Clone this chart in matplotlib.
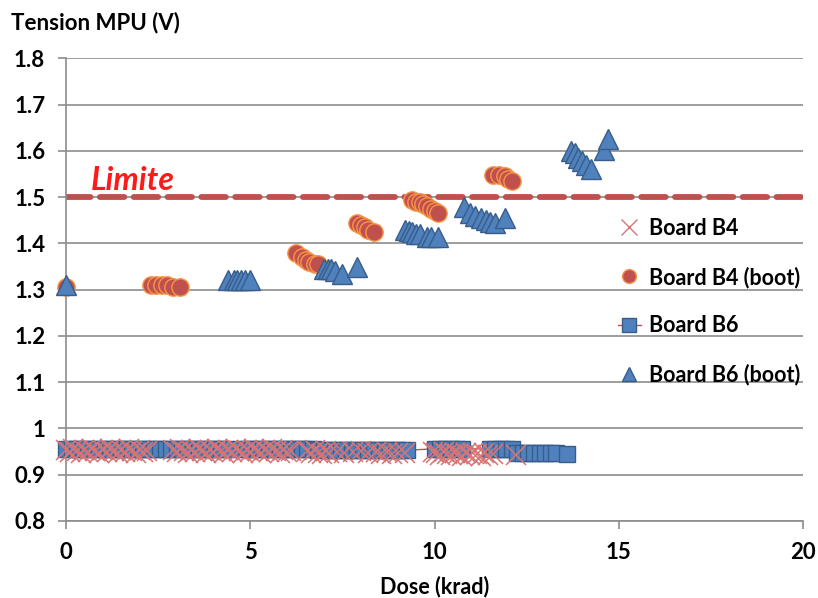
import matplotlib.pyplot as plt
from matplotlib.lines import Line2D

plt.rcParams['font.family'] = ['Lato', 'DejaVu Sans']
plt.rcParams['font.weight'] = 'bold'

# Board B4 (x markers)
b4_dose = [0.0, 0.1, 0.2, 0.3, 0.4, 0.5, 0.6, 0.7, 0.8, 0.9, 1.0, 1.1, 1.2,
           1.3, 1.4, 1.5, 1.6, 1.7, 1.8, 1.9, 2.0, 2.1, 2.2,
           2.9, 3.0, 3.1, 3.2, 3.3, 3.4, 3.5, 3.6, 3.7, 3.8, 3.9, 4.0, 4.1,
           4.2, 4.3, 4.4, 4.5, 4.6, 4.7, 4.8, 4.9, 5.0, 5.1, 5.2, 5.3, 5.4,
           5.5, 5.6, 5.7, 5.8, 5.9, 6.0, 6.1,
           6.55, 6.65, 6.75, 6.85, 6.95, 7.05, 7.15,
           7.35, 7.55, 7.8, 8.0, 8.2, 8.4, 8.55, 8.7, 8.85, 9.0, 9.2,
           9.95, 10.05, 10.15, 10.25, 10.35, 10.45, 10.55, 10.65, 10.75,
           10.85, 10.95, 11.05, 11.15, 11.25, 11.35, 11.45, 11.6,
           12.2]
b4_volt = [0.954, 0.949, 0.956, 0.951, 0.947, 0.954, 0.950, 0.956, 0.951, 0.947, 0.954, 0.949, 0.956,
           0.951, 0.947, 0.954, 0.950, 0.956, 0.951, 0.947, 0.954, 0.949, 0.951,
           0.954, 0.949, 0.956, 0.951, 0.947, 0.954, 0.950, 0.956, 0.951, 0.947, 0.954, 0.949, 0.956,
           0.951, 0.947, 0.954, 0.950, 0.956, 0.951, 0.947, 0.954, 0.949, 0.956, 0.951, 0.947,
           0.954, 0.950, 0.956, 0.951, 0.947, 0.954, 0.949, 0.951,
           0.951, 0.946, 0.953, 0.948, 0.945, 0.951, 0.947,
           0.950, 0.946, 0.949, 0.952, 0.947, 0.950, 0.945, 0.949, 0.945, 0.948, 0.946,
           0.950, 0.946, 0.943, 0.949, 0.945, 0.942, 0.948, 0.944, 0.941,
           0.947, 0.943, 0.948, 0.944, 0.941, 0.947, 0.943, 0.945,
           0.942]

# Board B4 (boot)
b4b_dose = [0.0, 2.3, 2.45, 2.6, 2.75, 2.9, 3.1,
            6.25, 6.4, 6.5, 6.6, 6.75, 6.85,
            7.9, 8.0, 8.1, 8.2, 8.35,
            9.4, 9.5, 9.6, 9.7, 9.8, 9.9, 10.0, 10.1,
            11.6, 11.75, 11.9, 12.0, 12.1]
b4b_volt = [1.305, 1.31, 1.31, 1.31, 1.31, 1.305, 1.305,
            1.38, 1.37, 1.365, 1.36, 1.355, 1.355,
            1.445, 1.44, 1.435, 1.43, 1.425,
            1.495, 1.49, 1.49, 1.485, 1.48, 1.475, 1.47, 1.465,
            1.548, 1.547, 1.545, 1.54, 1.536]

# Board B6 (squares)
b6_dose = [0.0, 0.15, 0.3, 0.45, 0.6, 0.75, 0.9, 1.05, 1.2, 1.35, 1.5, 1.65,
           1.8, 1.95, 2.1, 2.25, 2.4, 2.55, 2.7, 2.85, 3.0, 3.15, 3.3, 3.45,
           3.6, 3.75, 3.9, 4.05, 4.2, 4.35,
           4.75, 4.9, 5.05, 5.2, 5.35, 5.5, 5.65, 5.8, 5.95, 6.1, 6.25, 6.4,
           6.55, 6.7, 6.85, 7.0, 7.15, 7.3, 7.45, 7.6, 7.75, 7.9, 8.05, 8.2,
           8.35, 8.5, 8.65, 8.8, 8.95, 9.1, 9.25,
           10.0, 10.15, 10.3, 10.45, 10.6, 10.75,
           11.5, 11.65, 11.8, 11.95, 12.1,
           12.25, 12.4, 12.55, 12.7, 12.85, 13.0, 13.15, 13.3, 13.6]
b6_volt = [0.955, 0.955, 0.955, 0.955, 0.955, 0.955, 0.955, 0.955, 0.955, 0.955, 0.955, 0.955,
           0.955, 0.955, 0.955, 0.955, 0.955, 0.956, 0.956, 0.956, 0.955, 0.955, 0.955, 0.955,
           0.955, 0.955, 0.955, 0.955, 0.955, 0.955,
           0.955, 0.955, 0.955, 0.955, 0.955, 0.955, 0.955, 0.955, 0.955, 0.955, 0.955, 0.955,
           0.955, 0.955, 0.954, 0.954, 0.954, 0.954, 0.954, 0.954, 0.954, 0.954, 0.954, 0.954,
           0.954, 0.954, 0.953, 0.953, 0.953, 0.953, 0.953,
           0.956, 0.956, 0.956, 0.956, 0.956, 0.956,
           0.956, 0.956, 0.956, 0.956, 0.956,
           0.948, 0.948, 0.948, 0.948, 0.948, 0.948, 0.947, 0.947, 0.945]

# Board B6 (boot)
b6b_dose = [0.0, 4.4, 4.55, 4.65, 4.75, 4.85, 5.0,
            7.0, 7.1, 7.2, 7.3, 7.5, 7.9,
            9.2, 9.3, 9.4, 9.5, 9.6, 9.8, 9.9, 10.1,
            10.8, 10.95, 11.1, 11.25, 11.4, 11.5, 11.65, 11.9,
            13.7, 13.8, 13.9, 14.0, 14.1, 14.25, 14.6, 14.7]
b6b_volt = [1.31, 1.32, 1.32, 1.32, 1.32, 1.32, 1.32,
            1.345, 1.345, 1.345, 1.34, 1.335, 1.35,
            1.43, 1.428, 1.425, 1.42, 1.42, 1.415, 1.415, 1.415,
            1.478, 1.465, 1.46, 1.455, 1.45, 1.447, 1.445, 1.455,
            1.60, 1.595, 1.585, 1.578, 1.57, 1.56, 1.603, 1.625]

limit_volt = 1.5

fig = plt.figure(figsize=(8.18, 5.98), dpi=100)
ax = fig.add_axes([0.0807, 0.1288, 0.9010, 0.7734])

grid_c = '#8c8c8c'
red = '#c0504d'
blue = '#4f81bd'
pink = '#d97474'

ax.set_xlim(0, 20)
ax.set_ylim(0.8, 1.8)
ax.set_xticks([0, 5, 10, 15, 20])
ax.set_yticks([0.8, 0.9, 1.0, 1.1, 1.2, 1.3, 1.4, 1.5, 1.6, 1.7, 1.8])
ax.set_yticklabels(['0.8', '0.9', '1', '1.1', '1.2', '1.3', '1.4', '1.5', '1.6', '1.7', '1.8'])
ax.grid(axis='y', color=grid_c, lw=1.2)
ax.set_axisbelow(True)
for s in ['top', 'right']:
    ax.spines[s].set_visible(False)
for s in ['left', 'bottom']:
    ax.spines[s].set_color(grid_c)
    ax.spines[s].set_linewidth(1.2)
ax.tick_params(axis='both', colors=grid_c, labelcolor='black', labelsize=16,
               width=1.2)
ax.tick_params(axis='y', length=6, pad=9)
ax.tick_params(axis='x', length=6, pad=9)

# limit line
ax.plot([0, 20], [limit_volt, limit_volt], color=red, lw=4.2,
        dashes=(4.2, 1.6), dash_capstyle='round', zorder=2)
ax.text(0.66, 1.515, 'Limite', color='#ff1a1a', fontsize=23,
        fontweight='bold', fontstyle='italic', va='baseline')

ax.plot(b4_dose, b4_volt, ls='none', marker='x', ms=14, mew=1.1,
        color=pink, zorder=3, clip_on=False)
ax.plot(b6_dose, b6_volt, color=red, lw=1.0, marker='s', ms=11.5,
        mfc=blue, mec='#385d8a', mew=1.0, zorder=2.5, clip_on=False)
ax.plot(b4b_dose, b4b_volt, ls='none', marker='o', ms=12.5,
        mfc=red, mec='#f79646', mew=1.0, zorder=4, clip_on=False)
ax.plot(b6b_dose, b6b_volt, ls='none', marker='^', ms=14,
        mfc=blue, mec='#385d8a', mew=1.0, zorder=5, clip_on=False)

handles = [
    Line2D([], [], ls='none', marker='x', ms=11, mew=1.0, color=pink),
    Line2D([], [], ls='none', marker='o', ms=10, mfc=red, mec='#f79646'),
    Line2D([], [], color=red, lw=1.0, marker='s', ms=10, mfc=blue, mec='#385d8a'),
    Line2D([], [], ls='none', marker='^', ms=10, mfc=blue, mec='#385d8a'),
]
labels = ['Board B4', 'Board B4 (boot)', 'Board B6', 'Board B6 (boot)']
fig.legend(handles, labels, loc='upper left', bbox_to_anchor=(0.755, 0.636),
           frameon=False, fontsize=15.5, handlelength=1.1, handletextpad=0.35,
           labelspacing=1.28, borderpad=0, borderaxespad=0)

fig.text(0.014, 0.962, 'Tension MPU (V)', fontsize=16, fontweight='bold',
         va='center', ha='left')
ax.set_xlabel('Dose (krad)', fontsize=15.5, fontweight='bold', labelpad=9)

fig.savefig('out.png', dpi=100)
